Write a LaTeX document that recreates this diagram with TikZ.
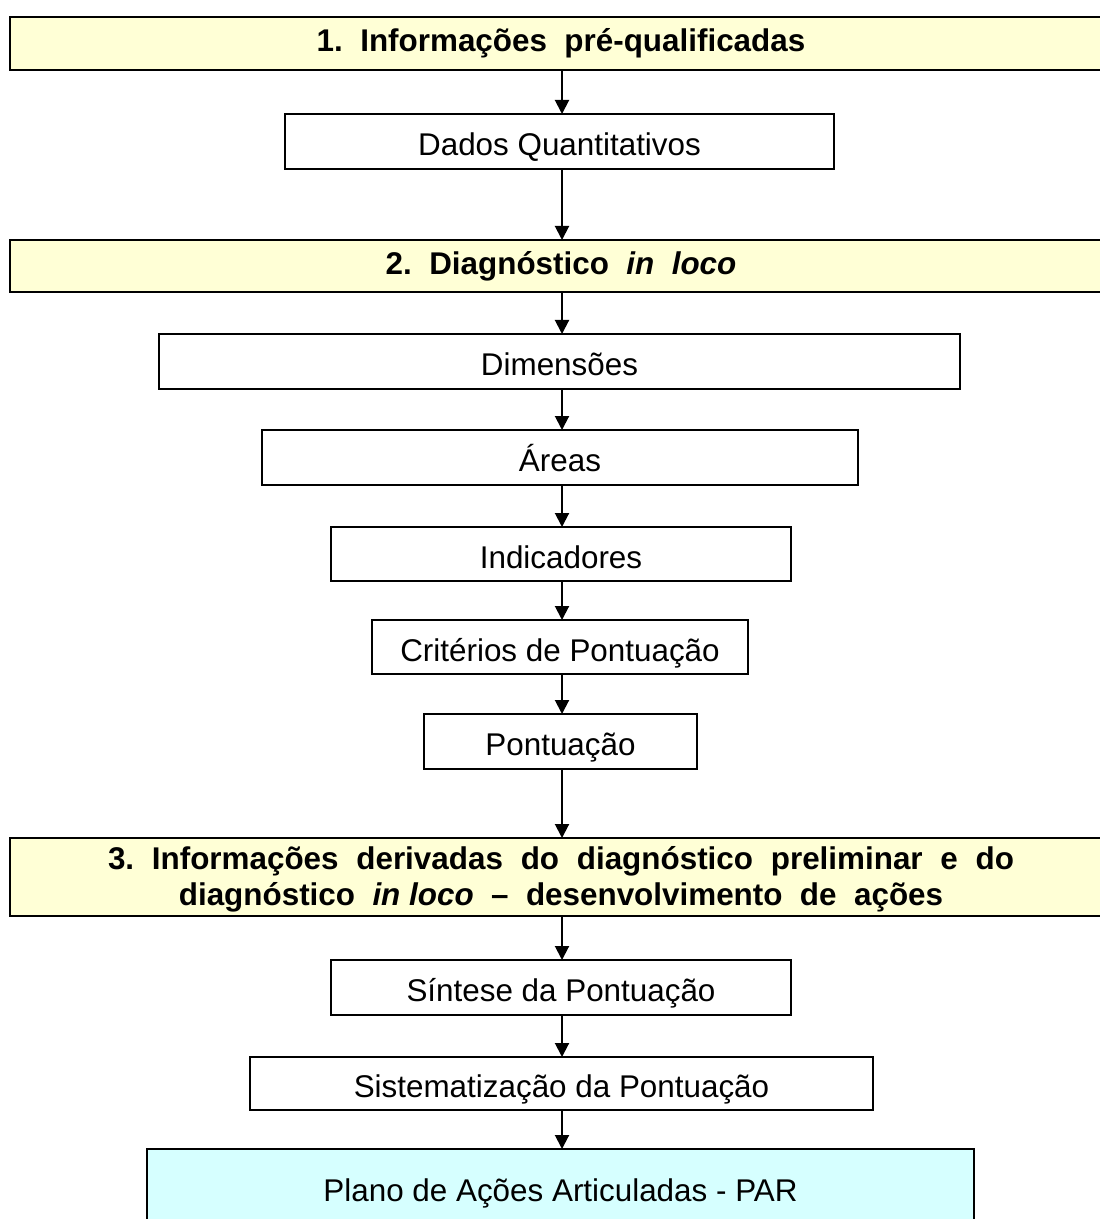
\documentclass[tikz,border=0pt]{standalone}
\usepackage{fontspec}
\setmainfont{Liberation Sans}
\usetikzlibrary{arrows.meta}
\definecolor{titlefill}{HTML}{FFFFD6}
\definecolor{parfill}{HTML}{D6FFFF}
\begin{document}
\begin{tikzpicture}[x=0.5pt,y=-0.5pt,
  every node/.style={font=\fontsize{15.7pt}{18pt}\selectfont, inner sep=0pt, outer sep=0pt},
  stepbox/.style={draw=black, line width=1pt, fill=white, rectangle, text height=14.3pt, text depth=0pt},
  titlebox/.style={draw=black, line width=1pt, rectangle, fill=titlefill, font=\fontsize{15.7pt}{18pt}\selectfont\bfseries},
  arr/.style={line width=1pt, -{Triangle[length=7pt,width=7pt]}}]
\useasboundingbox (0,0) rectangle (1099,1219);
\node[titlebox, minimum width=551pt, minimum height=26.5pt] (t1) at (561,43.5) {1.~~Informações~~pré-qualificadas};
\node[stepbox, minimum width=274.5pt, minimum height=27.5pt] (dq) at (559.5,141.5) {Dados Quantitativos};
\node[titlebox, minimum width=551pt, minimum height=26pt] (t2) at (561,266) {2.~~Diagnóstico~~\textit{in~~loco}};
\node[stepbox, minimum width=400.5pt, minimum height=27.5pt] (dim) at (559.5,361.5) {Dimensões};
\node[stepbox, minimum width=298pt, minimum height=27.5pt] (ar) at (560,457.5) {Áreas};
\node[stepbox, minimum width=230pt, minimum height=27pt] (ind) at (561,554) {Indicadores};
\node[stepbox, minimum width=188pt, minimum height=27pt] (crit) at (560,647) {Critérios de Pontuação};
\node[stepbox, minimum width=136.5pt, minimum height=27.5pt] (pont) at (560.5,741.5) {Pontuação};
\node[titlebox, minimum width=551pt, minimum height=39pt, text height=23.4pt, text depth=12.6pt] (t3) at (561,877)
  {\begin{tabular}{@{}c@{}}\makebox[453pt][s]{3.\ Informações derivadas do diagnóstico preliminar e do}\\
   diagnóstico~~\textit{in loco}~~–~~desenvolvimento~~de~~ações\end{tabular}};
\node[stepbox, minimum width=230pt, minimum height=27.5pt] (sin) at (561,987.5) {Síntese da Pontuação};
\node[stepbox, minimum width=311.5pt, minimum height=26.5pt] (sis) at (561.5,1083.5) {Sistematização da Pontuação};
\node[stepbox, fill=parfill, minimum width=413.5pt, minimum height=45.5pt, text height=6.8pt, text depth=0pt] (par) at (560.5,1194.5) {Plano de Ações Articuladas - PAR};
\coordinate (ax) at (562,0);
\foreach \a/\b in {t1/dq, dq/t2, t2/dim, dim/ar, ar/ind, ind/crit, crit/pont, pont/t3, t3/sin, sin/sis, sis/par}
  \draw[arr] (ax |- \a.south) -- (ax |- \b.north);
\end{tikzpicture}
\end{document}
